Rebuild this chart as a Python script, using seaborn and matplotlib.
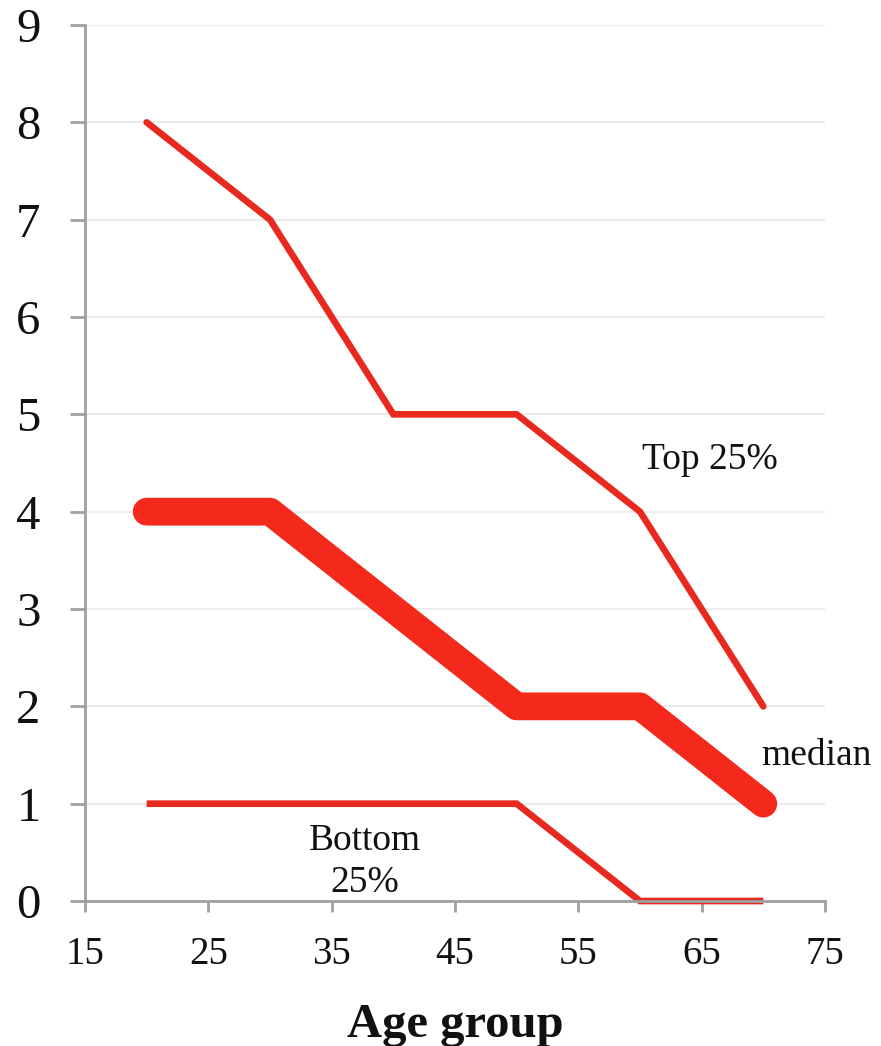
import matplotlib
matplotlib.use("Agg")
import matplotlib.pyplot as plt
import seaborn as sns
import pandas as pd

# values
age = [20, 30, 40, 50, 60, 70]
top25 = [8, 7, 5, 5, 4, 2]
median = [4, 4, 3, 2, 2, 1]
bottom25 = [1, 1, 1, 1, 0, 0]

df = pd.DataFrame({"age": age, "top": top25, "median": median, "bottom": bottom25})

sns.set_style("white")
plt.rcParams['font.family'] = ['Liberation Serif', 'DejaVu Serif']

fig = plt.figure(figsize=(8.81, 10.46), dpi=100)
ax = fig.add_axes([0.0965, 0.1386, 0.8399, 0.8375])

red = "#e8291f"
sns.lineplot(data=df, x="age", y="top", ax=ax, color=red, linewidth=4.8,
             solid_capstyle="round", solid_joinstyle="miter")
sns.lineplot(data=df, x="age", y="median", ax=ax, color="#f4281b", linewidth=20,
             solid_capstyle="round", solid_joinstyle="round")
sns.lineplot(data=df, x="age", y="bottom", ax=ax, color=red, linewidth=4.8,
             solid_capstyle="butt", solid_joinstyle="miter", clip_on=False)

ax.set_xlim(15, 75)
ax.set_ylim(0, 9)
ax.set_xticks(range(15, 76, 10))
ax.set_yticks(range(0, 10))
ax.yaxis.grid(True, color="#ececec", linewidth=1.5)
ax.set_axisbelow(True)

for s in ["top", "right"]:
    ax.spines[s].set_visible(False)
for s in ["left", "bottom"]:
    ax.spines[s].set_color("#a0a0a0")
    ax.spines[s].set_linewidth(2)

ax.tick_params(axis="y", which="major", length=11, width=2, color="#a0a0a0",
               labelsize=35, pad=21, direction="out", left=True, labelcolor="#111111")
ax.tick_params(axis="x", which="major", length=8, width=2, color="#a0a0a0",
               labelsize=28, pad=17, direction="out", bottom=True, labelcolor="#111111")

ax.set_ylabel("")
ax.set_xlabel("Age group", fontsize=35, fontweight="bold", labelpad=22, color="#111111")

ax.text(65.7, 4.44, "Top 25%", fontsize=27, ha="center", va="baseline", color="#111111")
ax.text(74.3, 1.40, "median", fontsize=27, ha="center", va="baseline",
        clip_on=False, color="#111111")
ax.text(37.7, 0.524, "Bottom", fontsize=27, ha="center", va="baseline", color="#111111")
ax.text(37.7, 0.092, "25%", fontsize=27, ha="center", va="baseline", color="#111111")

fig.savefig("out.png", dpi=100)
